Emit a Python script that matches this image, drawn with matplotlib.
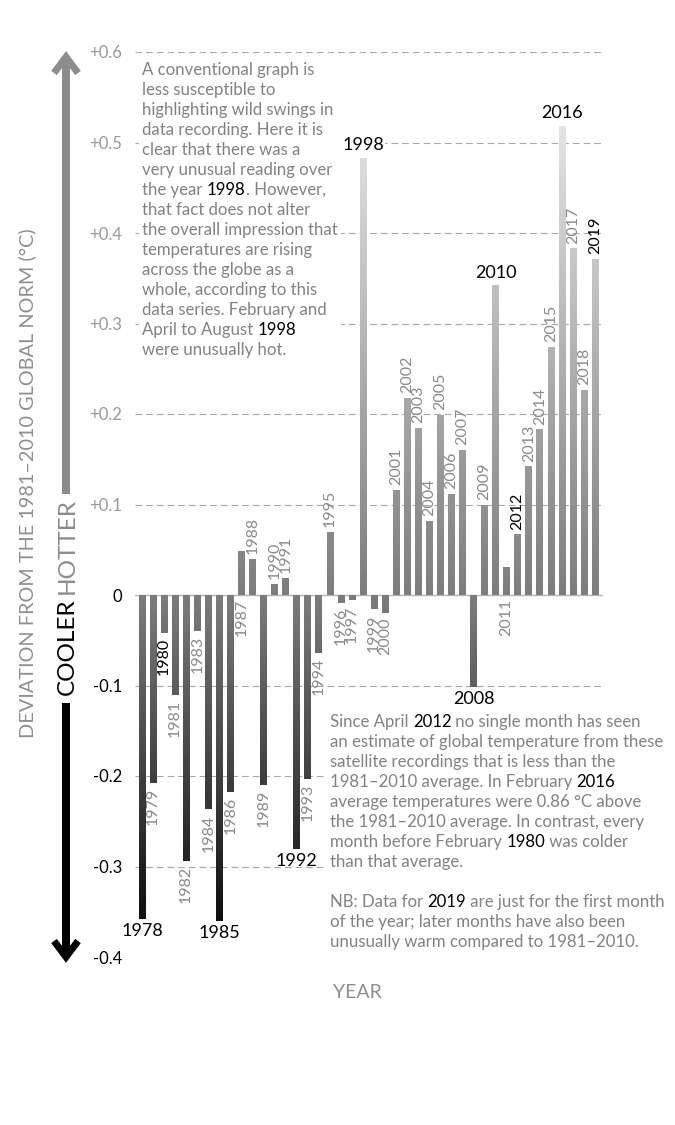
import re
import numpy as np
import matplotlib
matplotlib.use("Agg")
import matplotlib.pyplot as plt
from matplotlib.colors import LinearSegmentedColormap, Normalize
from matplotlib.patches import Rectangle
from matplotlib.lines import Line2D
from matplotlib.text import Annotation

plt.rcParams["font.family"] = ["Lato", "DejaVu Sans"]

# ---------------- data ----------------
years = list(range(1978, 2020))
anomaly = [-0.358, -0.208, -0.042, -0.110, -0.294, -0.040, -0.237, -0.360, -0.218, 0.049,
           0.040, -0.210, 0.012, 0.019, -0.281, -0.203, -0.064, 0.070, -0.009, -0.006,
           0.483, -0.016, -0.020, 0.116, 0.218, 0.185, 0.082, 0.199, 0.112, 0.160,
           -0.102, 0.100, 0.342, 0.031, 0.067, 0.142, 0.183, 0.274, 0.518, 0.383,
           0.227, 0.371]
tick_values = [0.6, 0.5, 0.4, 0.3, 0.2, 0.1, 0.0, -0.1, -0.2, -0.3, -0.4]
tick_labels = ["+0.6", "+0.5", "+0.4", "+0.3", "+0.2", "+0.1", "0", "-0.1", "-0.2", "-0.3", "-0.4"]
horizontal_label_years = [1978, 1985, 1992, 1998, 2008, 2010, 2016]
black_rotated_years = [1980, 2012, 2019]
below_axis_years = [1987, 2011]

y_title = "DEVIATION FROM THE 1981\u20132010 GLOBAL NORM (\u00b0C)"
x_title = "YEAR"
note_top = [
    "A conventional graph is",
    "less susceptible to",
    "highlighting wild swings in",
    "data recording. Here it is",
    "clear that there was a",
    "very unusual reading over",
    "the year [1998]. However,",
    "that fact does not alter",
    "the overall impression that",
    "temperatures are rising",
    "across the globe as a",
    "whole, according to this",
    "data series. February and",
    "April to August [1998]",
    "were unusually hot.",
]
note_bottom = [
    "Since April [2012] no single month has seen",
    "an estimate of global temperature from these",
    "satellite recordings that is less than the",
    "1981\u20132010 average. In February [2016]",
    "average temperatures were 0.86 \u00b0C above",
    "the 1981\u20132010 average. In contrast, every",
    "month before February [1980] was colder",
    "than that average.",
    "",
    "NB: Data for [2019] are just for the first month",
    "of the year; later months have also been",
    "unusually warm compared to 1981\u20132010.",
]

# ---------------- figure ----------------
W, H = 675, 1125
fig = plt.figure(figsize=(W / 100, H / 100), dpi=100)
fig.patch.set_facecolor("white")


def fx(x):
    return x / W


def fy(y):
    return 1 - y / H


ax = fig.add_axes([fx(135), fy(957), (603 - 135) / W, (957 - 52) / H])
for s in ax.spines.values():
    s.set_visible(False)

GREY = "#8a8a8a"
TEXT_GREY = "#828282"

cmap = LinearSegmentedColormap.from_list(
    "heat", [(0.0, "#030303"), (0.4, "#7d7d7d"), (1.0, "#f4f4f4")])
norm = Normalize(vmin=-0.4, vmax=0.6)

# grid
for t in tick_values:
    if t == 0:
        ax.axhline(0, color="#b5b5b5", lw=1.0, zorder=1)
    else:
        ax.axhline(t, color="#a8a8a8", lw=0.8, dashes=(6, 3.6), zorder=1)

width = 0.6
bars = ax.bar(years, anomaly, width=width, facecolor="none", edgecolor="none", zorder=2)
for b, yr, v in zip(bars, years, anomaly):
    lo, hi = min(0, v), max(0, v)
    grad = np.linspace(lo, hi, 200)[:, None]
    im = ax.imshow(grad, extent=[yr - width / 2, yr + width / 2, lo, hi], origin="lower",
                   cmap=cmap, norm=norm, aspect="auto", zorder=2, interpolation="bilinear")
    im.set_clip_path(b)

ax.set_xlim(1977.37, 2019.72)
ax.set_ylim(-0.4, 0.6)
ax.set_xticks([])
ax.set_yticks(tick_values)
ax.set_yticklabels(tick_labels)
ax.tick_params(axis="y", length=0, pad=9.5, labelsize=12)
for lab, t in zip(ax.get_yticklabels(), tick_values):
    lab.set_color("#999999" if t > 0 else "black")

# year labels
for yr, v in zip(years, anomaly):
    s = str(yr)
    if yr in horizontal_label_years:
        if v >= 0:
            ax.annotate(s, xy=(yr, v), xytext=(0, 3.5), textcoords="offset points",
                        ha="center", va="bottom", fontsize=13, color="black", zorder=4,
                        bbox=dict(facecolor="white", edgecolor="none", pad=1.0))
        else:
            ax.annotate(s, xy=(yr, v), xytext=(0, -3), textcoords="offset points",
                        ha="center", va="top", fontsize=13, color="black", zorder=4)
        continue
    col = "black" if yr in black_rotated_years else GREY
    if yr in below_axis_years:
        ax.annotate(s, xy=(yr, 0), xytext=(0, -3), textcoords="offset points",
                    ha="center", va="top", rotation=90, fontsize=11.5, color=col, zorder=4)
    elif v >= 0:
        ax.annotate(s, xy=(yr, v), xytext=(0, 3.5), textcoords="offset points",
                    ha="center", va="bottom", rotation=90, fontsize=11.5, color=col, zorder=4)
    else:
        ax.annotate(s, xy=(yr, v), xytext=(0, -3.5), textcoords="offset points",
                    ha="center", va="top", rotation=90, fontsize=11.5, color=col, zorder=4)

# white boxes behind notes
fig.add_artist(Rectangle((fx(139), fy(362)), (341 - 139) / W, (362 - 58) / H,
                         transform=fig.transFigure, facecolor="white", edgecolor="none", zorder=1))
fig.add_artist(Rectangle((fx(325), fy(952)), (675 - 325) / W, (952 - 709) / H,
                         transform=fig.transFigure, facecolor="white", edgecolor="none", zorder=1))


def rich_line(x, y, line, size=12.1):
    parts = [p for p in re.split(r"(\[[^\]]*\])", line) if p]
    prev = None
    for p in parts:
        col = TEXT_GREY
        if p.startswith("["):
            p = p[1:-1]
            col = "black"
        if prev is None:
            prev = fig.text(fx(x), fy(y), p, color=col, fontsize=size, ha="left",
                            va="baseline", zorder=5)
        else:
            a = Annotation(p, xy=(1, 0), xycoords=prev, ha="left", va="bottom",
                           color=col, fontsize=size, zorder=5)
            fig.add_artist(a)
            prev = a


for i, line in enumerate(note_top):
    if line:
        rich_line(142, 75 + 20 * i, line)
for i, line in enumerate(note_bottom):
    if line:
        rich_line(330, 727 + 20 * i, line)

# axis titles
fig.text(fx(27), fy(483), y_title, rotation=90, ha="center", va="center",
         color="#8f8f8f", fontsize=14.3)
fig.text(fx(357), fy(993), x_title, ha="center", va="center", color="#8f8f8f", fontsize=14)

# hotter / cooler arrow
AX_X = 66
lw_pt = 8 * 72 / 100
fig.add_artist(Line2D([fx(AX_X), fx(AX_X)], [fy(60), fy(494)], color="#8c8c8c", lw=lw_pt,
                      solid_capstyle="butt", transform=fig.transFigure))
fig.add_artist(Line2D([fx(54), fx(AX_X), fx(78)], [fy(73), fy(57), fy(73)], color="#8c8c8c",
                      lw=7 * 72 / 100, solid_joinstyle="miter", solid_capstyle="butt",
                      transform=fig.transFigure))
fig.add_artist(Line2D([fx(AX_X), fx(AX_X)], [fy(703), fy(952)], color="black", lw=lw_pt,
                      solid_capstyle="butt", transform=fig.transFigure))
fig.add_artist(Line2D([fx(54), fx(AX_X), fx(78)], [fy(941), fy(957), fy(941)], color="black",
                      lw=7 * 72 / 100, solid_joinstyle="miter", solid_capstyle="butt",
                      transform=fig.transFigure))
fig.text(fx(AX_X + 1), fy(546), "HOTTER", rotation=90, ha="center", va="center",
         color="#8c8c8c", fontsize=17.5)
fig.text(fx(AX_X + 1), fy(647), "COOLER", rotation=90, ha="center", va="center",
         color="black", fontsize=17.5)

fig.savefig("out.png", dpi=100, facecolor="white")
